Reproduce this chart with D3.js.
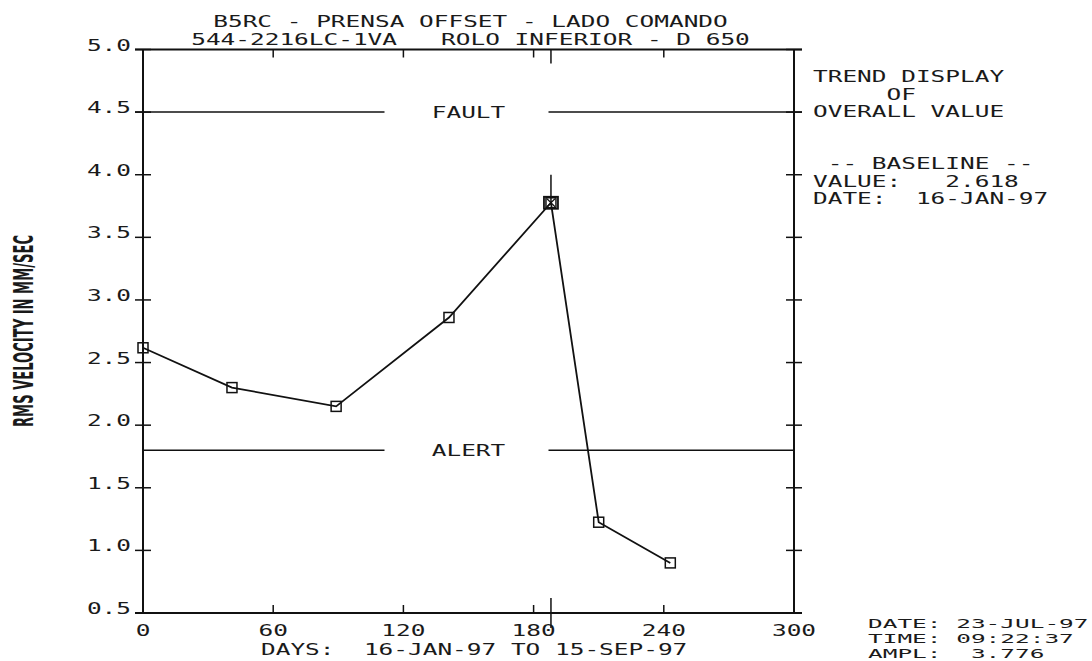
<!DOCTYPE html>
<html>
<head>
<meta charset="utf-8">
<script src="https://cdn.jsdelivr.net/npm/d3@7"></script>
<style>
	body { margin: 0; background: #fff; }
	text { font-family: "DejaVu Sans Mono", "Liberation Mono", monospace; fill: #1a1a1a; }
</style>
</head>
<body>
<div id="trend"></div>
<script>
// trend values (days since 16-JAN-97, mm/sec rms)
var days = [0, 41, 89, 141, 188, 210, 243];
var rmsValues = [2.618, 2.30, 2.15, 2.86, 3.776, 1.225, 0.90];
var cursorDay = 188;

var xTicks = [0, 60, 120, 180, 240, 300];
var yTicks = [0.5, 1.0, 1.5, 2.0, 2.5, 3.0, 3.5, 4.0, 4.5, 5.0];

var limitNames = ["FAULT", "ALERT"];
var limitValues = [4.5, 1.8];

var titleLines = ["B5RC - PRENSA OFFSET - LADO COMANDO", "544-2216LC-1VA   ROLO INFERIOR - D 650"];
var headerLines = ["TREND DISPLAY", "     OF", "OVERALL VALUE"];
var baselineLines = [" -- BASELINE --", "VALUE:   2.618", "DATE:  16-JAN-97"];
var cursorLines = ["DATE: 23-JUL-97", "TIME: 09:22:37", "AMPL:  3.776"];
var xLabel = "DAYS:  16-JAN-97 TO 15-SEP-97";
var yLabel = "RMS VELOCITY IN MM/SEC";

var layout = {
	w: 1092,
	h: 661,
	left: 143,
	right: 794,
	top: 49.5,
	bottom: 613,
	pitch: 14.7,   // plotter font char width
	fs: 15
};

var svg = d3.select("#trend")
	.append("svg")
	.attr("width", layout.w)
	.attr("height", layout.h);

var xScale = d3.scaleLinear().domain([0, 300]).range([layout.left, layout.right]),
	yScale = d3.scaleLinear().domain([0.5, 5]).range([layout.bottom, layout.top]);

// stretched mono text, like the old plotter output
function monoText(str, x, y, anchor, fs){
	return svg.append("text")
		.attr("x", x)
		.attr("y", y)
		.attr("text-anchor", anchor || "start")
		.attr("xml:space", "preserve")
		.style("white-space", "pre")
		.style("font-size", (fs || layout.fs) + "px")
		.attr("textLength", str.length * layout.pitch)
		.attr("lengthAdjust", "spacingAndGlyphs")
		.text(str);
}

var ink = "#111";
var axes = svg.append("g").attr("class", "frame").style("stroke", ink).style("stroke-width", 2);

// frame
axes.append("line")
	.attr("x1", xScale(0) - 8).attr("x2", xScale(300) + 8)
	.attr("y1", yScale(5)).attr("y2", yScale(5));
axes.append("line")
	.attr("x1", xScale(0) - 8).attr("x2", xScale(300) + 8)
	.attr("y1", yScale(0.5)).attr("y2", yScale(0.5));
axes.append("line")
	.attr("x1", xScale(0)).attr("x2", xScale(0))
	.attr("y1", yScale(5)).attr("y2", yScale(0.5));
axes.append("line")
	.attr("x1", xScale(300)).attr("x2", xScale(300))
	.attr("y1", yScale(5)).attr("y2", yScale(0.5));

// y ticks cross both side axes
yTicks.forEach(function(v){
	[0, 300].forEach(function(d){
		axes.append("line")
			.attr("x1", xScale(d) - 8).attr("x2", xScale(d) + 8)
			.attr("y1", yScale(v)).attr("y2", yScale(v))
			.style("stroke-width", 1.5);
	});
	monoText(d3.format(".1f")(v), xScale(0) - 12, yScale(v) + 1, "end");
});

// x ticks point inward from top and bottom
xTicks.forEach(function(d){
	if(d > 0 && d < 300){
		axes.append("line")
			.attr("x1", xScale(d)).attr("x2", xScale(d))
			.attr("y1", yScale(0.5)).attr("y2", yScale(0.5) - 8)
			.style("stroke-width", 1.5);
		axes.append("line")
			.attr("x1", xScale(d)).attr("x2", xScale(d))
			.attr("y1", yScale(5)).attr("y2", yScale(5) + 8)
			.style("stroke-width", 1.5);
	}
	monoText(String(d), xScale(d), layout.bottom + 23, "middle");
});

// alarm limits with label gap in the middle
var midX = (layout.left + layout.right) / 2;
limitValues.forEach(function(v, i){
	var ext = i == 0 ? 8 : 0;
	axes.append("line")
		.attr("x1", xScale(0) - ext).attr("x2", midX - 84)
		.attr("y1", yScale(v)).attr("y2", yScale(v))
		.style("stroke-width", 1.5);
	axes.append("line")
		.attr("x1", midX + 80).attr("x2", xScale(300) + ext)
		.attr("y1", yScale(v)).attr("y2", yScale(v))
		.style("stroke-width", 1.5);
	monoText(limitNames[i], midX, yScale(v) + 6, "middle");
});

// cursor at selected measurement
var cx = xScale(cursorDay);
var cursorVal = rmsValues[days.indexOf(cursorDay)];
[[yScale(5), yScale(5) + 14], [yScale(cursorVal) - 28, yScale(cursorVal)], [yScale(0.5) - 15, yScale(0.5) + 15]]
	.forEach(function(seg){
		axes.append("line")
			.attr("x1", cx).attr("x2", cx)
			.attr("y1", seg[0]).attr("y2", seg[1])
			.style("stroke-width", 1.5);
	});

// trend line
var points = days.map(function(d, i){ return [d, rmsValues[i]]; });
var line = d3.line()
	.x(function(d){ return xScale(d[0]); })
	.y(function(d){ return yScale(d[1]); });

svg.append("path")
	.attr("d", line(points))
	.style("fill", "none")
	.style("stroke", ink)
	.style("stroke-width", 1.8);

var markers = svg.append("g").attr("class", "markers")
	.selectAll("rect")
	.data(points)
	.enter().append("rect")
	.attr("x", function(d){ return xScale(d[0]) - 5; })
	.attr("y", function(d){ return yScale(d[1]) - 5; })
	.attr("width", 10)
	.attr("height", 10)
	.style("fill", "none")
	.style("stroke", ink)
	.style("stroke-width", 1.5);

// selected point gets a crossed box
svg.append("path")
	.attr("d", "M" + (cx - 4) + "," + (yScale(cursorVal) - 4) + "L" + (cx + 4) + "," + (yScale(cursorVal) + 4) +
		"M" + (cx + 4) + "," + (yScale(cursorVal) - 4) + "L" + (cx - 4) + "," + (yScale(cursorVal) + 4))
	.style("stroke", ink)
	.style("stroke-width", 1.2);
svg.append("rect")
	.attr("x", cx - 7).attr("y", yScale(cursorVal) - 6)
	.attr("width", 14).attr("height", 12)
	.style("fill", "none")
	.style("stroke", ink)
	.style("stroke-width", 1.8);

// titles and text blocks
monoText(titleLines[0], midX + 2, 27, "middle");
monoText(titleLines[1], midX + 2, 45, "middle");

[82, 99.5, 117].forEach(function(y, i){ monoText(headerLines[i], 813, y); });
[169, 186.5, 204].forEach(function(y, i){ monoText(baselineLines[i], 813, y); });
[627.5, 642.5, 657.5].forEach(function(y, i){ monoText(cursorLines[i], 868, y, "start", 13); });

monoText(xLabel, 261, 655);

svg.append("text")
	.attr("transform", "translate(33," + 331 + ") rotate(-90)")
	.attr("text-anchor", "middle")
	.style("font-family", "'DejaVu Sans Condensed', 'DejaVu Sans', sans-serif")
	.style("font-weight", "bold")
	.style("font-size", "26px")
	.attr("textLength", 192)
	.attr("lengthAdjust", "spacingAndGlyphs")
	.text(yLabel);
</script>
</body>
</html>
